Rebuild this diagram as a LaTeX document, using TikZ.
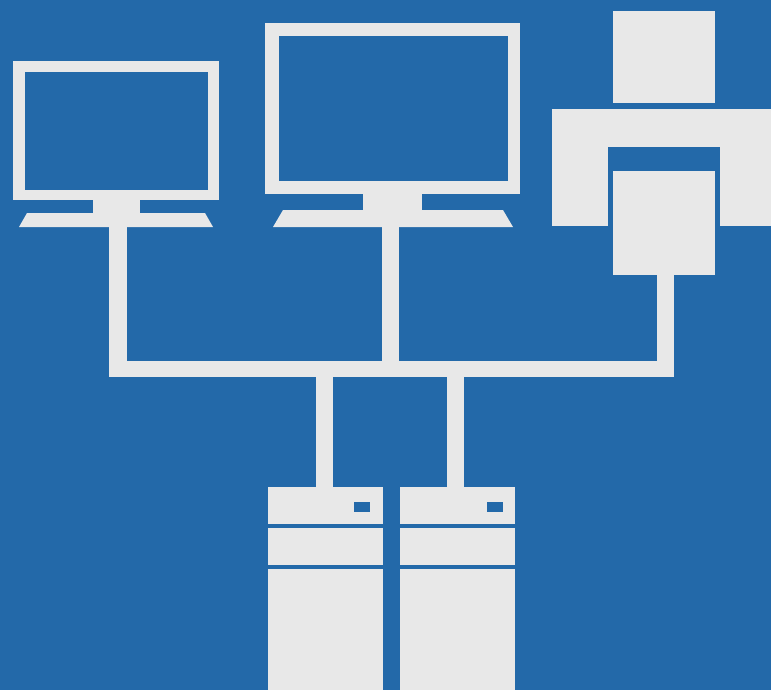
\documentclass[tikz,border=0pt]{standalone}
\definecolor{cblue}{HTML}{2369A9}
\definecolor{cpale}{HTML}{E8E8E8}
\tikzset{
  every picture/.style={x=1bp, y=-1bp},
  slab/.style={fill=cpale, draw=none, inner sep=0pt, outer sep=0pt},
  screen/.style={fill=cblue, draw=none, inner sep=0pt, outer sep=0pt},
  link/.style={draw=cpale, line width=17.5bp},
  slit/.style={draw=cblue, line width=4bp},
}
% box given by its corners: name, x0, y0, x1, y1
\newcommand{\slabbox}[6][slab]{%
  \node[#1, anchor=north west, minimum width={(#5-#3)*1bp}, minimum height={(#6-#4)*1bp}] (#2) at (#3,#4) {};
}
\begin{document}
\begin{tikzpicture}
  \fill[cblue, use as bounding box] (0,0) rectangle (771,690);
  % left monitor
  \slabbox{monone}{13}{61}{219}{200}
  \slabbox[screen]{scrone}{25}{72}{208}{190}
  \slabbox{neckone}{93}{200}{140}{214}
  \fill[cpale] (27,213) -- (205,213) -- (213,227) -- (19,227) -- cycle;
  \coordinate (baseone) at (118,227);
  % right monitor
  \slabbox{montwo}{265}{23}{520}{194}
  \slabbox[screen]{scrtwo}{279}{36}{508}{181}
  \slabbox{necktwo}{363}{194}{422}{211}
  \fill[cpale] (283,210) -- (503,210) -- (513,227) -- (273,227) -- cycle;
  \coordinate (basetwo) at (390.5,227);
  % printer
  \slabbox{sheet}{613}{11}{715}{103}
  \slabbox{body}{552}{109}{771}{226}
  \slabbox[screen]{slot}{608}{147}{720}{227}
  \slabbox{tray}{613}{171}{715}{275}
  \coordinate (trayfoot) at (665.25,275);
  % servers
  \slabbox{srvone}{268}{487}{383}{690}
  \slabbox{srvtwo}{400}{487}{515}{690}
  \slabbox[screen]{ledone}{354}{502}{370}{512}
  \slabbox[screen]{ledtwo}{487}{502}{503}{512}
  \foreach \srv in {srvone,srvtwo}{
    \draw[slit] (\srv.west |- 0,526) -- (\srv.east |- 0,526);
    \draw[slit] (\srv.west |- 0,567) -- (\srv.east |- 0,567);
  }
  \coordinate (footone) at (324.5,487);
  \coordinate (foottwo) at (455.5,487);
  % bus
  \slabbox{bus}{109}{361}{674}{377}
  \draw[link] (baseone) -- (baseone |- bus.north);
  \draw[link] (basetwo) -- (basetwo |- bus.north);
  \draw[link] (trayfoot) -- (trayfoot |- bus.north);
  \draw[link] (footone) -- (footone |- bus.south);
  \draw[link] (foottwo) -- (foottwo |- bus.south);
\end{tikzpicture}
\end{document}
